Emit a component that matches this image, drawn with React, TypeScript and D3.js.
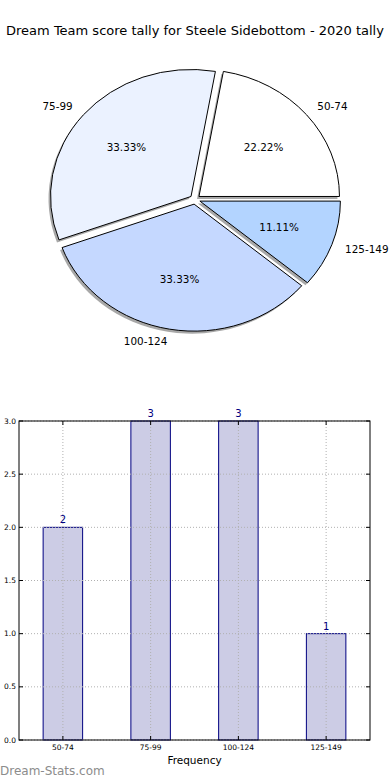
import React from "react";
import * as d3 from "d3";

const categories = ["50-74", "75-99", "100-124", "125-149"];
const counts = [2, 3, 3, 1];
const pieColors = ["#ffffff", "#ebf2ff", "#c5d8ff", "#b3d4ff"];
const yTicks = [0, 0.5, 1.0, 1.5, 2.0, 2.5, 3.0];

const W = 390;
const H = 780;
const FONT = "DejaVu Sans, sans-serif";

export default function App() {
  React.useEffect(() => {
    document.body.style.margin = "0";
  }, []);

  // Pie geometry (ellipse)
  const cx = 195;
  const cy = 199.5;
  const rx = 140.5;
  const ry = 127;
  const R = 100;
  const sx = rx / R;
  const sy = ry / R;
  const explode = 0.037;
  const total = d3.sum(counts);

  const pie = d3
    .pie<number>()
    .sort(null)
    .startAngle(Math.PI / 2)
    .endAngle(Math.PI / 2 - 2 * Math.PI);
  const arcs = pie(counts);
  const arcGen = d3.arc<d3.PieArcDatum<number>>().innerRadius(0).outerRadius(R);

  // Bar chart geometry
  const left = 19;
  const right = 370;
  const top = 421;
  const bottom = 740;
  const x = d3.scaleLinear().domain([-0.5, categories.length - 0.5]).range([left, right]);
  const y = d3.scaleLinear().domain([0, 3]).range([bottom, top]);
  const barW = x(0.45) - x(0);

  return (
    <div style={{ position: "absolute", left: 0, top: 0 }}>
      <svg width={W} height={H} style={{ display: "block", background: "#fff" }}>
        <text x={195} y={34.5} textAnchor="middle" fontFamily={FONT} fontSize={13} fill="#000">
          Dream Team score tally for Steele Sidebottom - 2020 tally
        </text>

        {/* shadows */}
        {arcs.map((a, i) => {
          const mid = (a.startAngle + a.endAngle) / 2;
          const ox = explode * rx * Math.sin(mid);
          const oy = -explode * ry * Math.cos(mid);
          return (
            <path
              key={"s" + i}
              d={arcGen(a) || ""}
              transform={`translate(${cx + ox - 2},${cy + oy + 2.5}) scale(${sx},${sy})`}
              fill="#7a7a7a"
              opacity={0.65}
            />
          );
        })}
        {arcs.map((a, i) => {
          const mid = (a.startAngle + a.endAngle) / 2;
          const ox = explode * rx * Math.sin(mid);
          const oy = -explode * ry * Math.cos(mid);
          return (
            <path
              key={"p" + i}
              d={arcGen(a) || ""}
              transform={`translate(${cx + ox},${cy + oy}) scale(${sx},${sy})`}
              fill={pieColors[i]}
              stroke="#000"
              strokeWidth={1}
              vectorEffect="non-scaling-stroke"
            />
          );
        })}
        {arcs.map((a, i) => {
          const mid = (a.startAngle + a.endAngle) / 2;
          const ux = Math.sin(mid);
          const uy = -Math.cos(mid);
          const ccx = cx + explode * rx * ux;
          const ccy = cy + explode * ry * uy;
          const lx = ccx + 1.1 * rx * ux;
          const ly = ccy + 1.1 * ry * uy;
          const px = ccx + 0.6 * rx * ux;
          const py = ccy + 0.6 * ry * uy;
          const pct = ((a.data / total) * 100).toFixed(2) + "%";
          return (
            <g key={"l" + i} fontFamily={FONT} fontSize={10.4} fill="#000">
              <text x={lx} y={ly} dy="0.36em" textAnchor={ux > 0 ? "start" : "end"}>
                {categories[i]}
              </text>
              <text x={px} y={py} dy="0.36em" textAnchor="middle">
                {pct}
              </text>
            </g>
          );
        })}

        {/* Bar chart */}
        {counts.map((c, i) => (
          <rect
            key={"b" + i}
            x={x(i) - barW / 2}
            y={y(c)}
            width={barW}
            height={y(0) - y(c)}
            fill="#cccce5"
            stroke="#000080"
            strokeWidth={1}
          />
        ))}
        {/* grid */}
        {yTicks.map((t, i) => (
          <line
            key={"gy" + i}
            x1={left}
            x2={right}
            y1={y(t)}
            y2={y(t)}
            stroke="#b0b0b0"
            strokeWidth={1}
            strokeDasharray="1,2"
          />
        ))}
        {categories.map((c, i) => (
          <line
            key={"gx" + i}
            x1={x(i)}
            x2={x(i)}
            y1={top}
            y2={bottom}
            stroke="#b0b0b0"
            strokeWidth={1}
            strokeDasharray="1,2"
          />
        ))}
        <rect x={left} y={top} width={right - left} height={bottom - top} fill="none" stroke="#000" strokeWidth={1} />
        {yTicks.map((t, i) => (
          <g key={"ty" + i}>
            <line x1={left} x2={left + 4} y1={y(t)} y2={y(t)} stroke="#000" />
            <line x1={right - 4} x2={right} y1={y(t)} y2={y(t)} stroke="#000" />
            <text x={left - 3} y={y(t)} dy="0.35em" textAnchor="end" fontFamily={FONT} fontSize={7.5} fill="#000">
              {t.toFixed(1)}
            </text>
          </g>
        ))}
        {categories.map((c, i) => (
          <g key={"tx" + i}>
            <line x1={x(i)} x2={x(i)} y1={bottom} y2={bottom - 4} stroke="#000" />
            <line x1={x(i)} x2={x(i)} y1={top} y2={top + 4} stroke="#000" />
            <text x={x(i)} y={bottom + 10} textAnchor="middle" fontFamily={FONT} fontSize={7.5} fill="#000">
              {c}
            </text>
          </g>
        ))}
        {counts.map((c, i) => (
          <text
            key={"v" + i}
            x={x(i)}
            y={y(c) - 4}
            textAnchor="middle"
            fontFamily={FONT}
            fontSize={10}
            fill="#000080"
          >
            {c}
          </text>
        ))}
        <text x={(left + right) / 2} y={764} textAnchor="middle" fontFamily={FONT} fontSize={10.5} fill="#000">
          Frequency
        </text>
        <text x={0} y={775} fontFamily={FONT} fontSize={12} fill="#8c8c8c">
          Dream-Stats.com
        </text>
      </svg>
    </div>
  );
}
